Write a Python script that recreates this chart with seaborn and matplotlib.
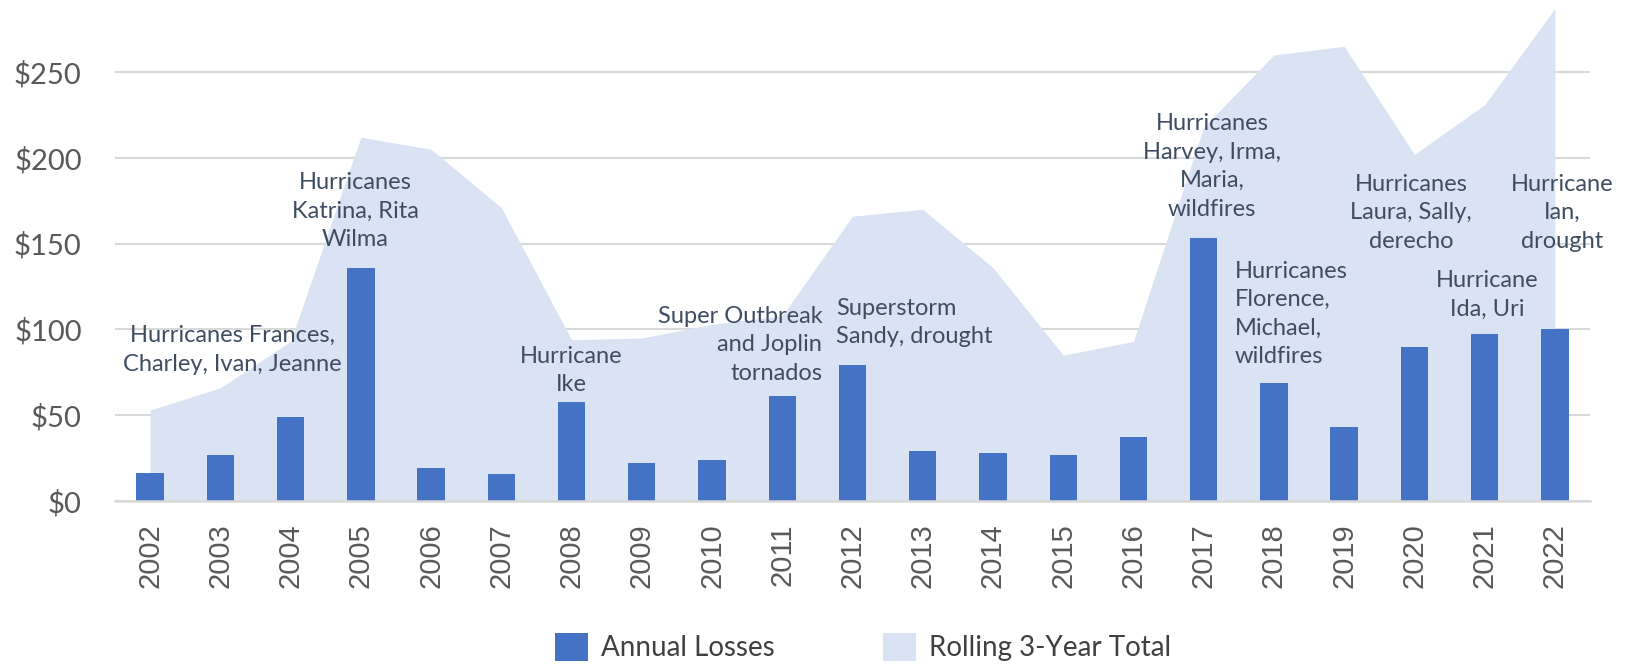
import matplotlib
matplotlib.use("Agg")
import matplotlib.pyplot as plt
from matplotlib.patches import Patch
import numpy as np
import pandas as pd
import seaborn as sns

# Billion-dollar disaster losses, 2002-2022 ($ billions)
years = [str(y) for y in range(2002, 2023)]
annual_losses = [16.5, 27, 49, 136, 19.5, 15.5, 57.5, 22, 24, 61, 79,
                 29, 28, 27, 37.5, 153, 68.5, 43, 89.5, 97.5, 100]
rolling_total = [53, 66, 93, 212, 205, 171, 94, 95, 103, 108, 166,
                 170, 136, 85, 93, 218, 260, 265, 202, 231, 287]
y_ticks = [0, 50, 100, 150, 200, 250]
y_tick_labels = ["$0", "$50", "$100", "$150", "$200", "$250"]

# Event notes: (year, text, horizontal alignment, x offset in bars, y value)
events = [
    ("2004", "Hurricanes Frances,\nCharley, Ivan, Jeanne", "center", -0.83, 88),
    ("2005", "Hurricanes\nKatrina, Rita\nWilma", "center", -0.08, 169),
    ("2008", "Hurricane\nIke", "center", 0.0, 76),
    ("2011", "Super Outbreak\nand Joplin\ntornados", "right", 0.57, 91),
    ("2012", "Superstorm\nSandy, drought", "left", -0.23, 104),
    ("2017", "Hurricanes\nHarvey, Irma,\nMaria,\nwildfires", "center", 0.12, 195),
    ("2018", "Hurricanes\nFlorence,\nMichael,\nwildfires", "left", -0.56, 109),
    ("2020", "Hurricanes\nLaura, Sally,\nderecho", "center", -0.05, 168),
    ("2021", "Hurricane\nIda, Uri", "center", 0.03, 120),
    ("2022", "Hurricane\nIan,\ndrought", "center", 0.11, 168),
]

df = pd.DataFrame({"year": years, "annual": annual_losses, "rolling": rolling_total})

BAR = "#4472C4"
AREA = "#DAE3F3"
GRID = "#D9D9D9"
TICK = "#595959"
NOTE = "#3F4D63"

sns.set_theme(style="white")
plt.rcParams["font.family"] = ["Lato", "DejaVu Sans"]

fig = plt.figure(figsize=(16.25, 6.67), dpi=100)
ax = fig.add_axes([115 / 1625, 166 / 667, 1475 / 1625, 501 / 667])

x = np.arange(len(years))
ax.fill_between(x, 0, df["rolling"], color=AREA, linewidth=0, zorder=2)
sns.barplot(data=df, x="year", y="annual", color=BAR, width=0.39,
            saturation=1, linewidth=0, edgecolor="none", ax=ax, zorder=3)

ax.set_xlim(-0.5, len(years) - 0.5)
ax.set_ylim(0, 292)
ax.set_yticks(y_ticks)
ax.set_yticklabels(y_tick_labels, fontsize=21, color=TICK)
ax.yaxis.grid(True, color=GRID, linewidth=1.5, zorder=1)
ax.set_axisbelow(True)
ax.tick_params(axis="y", length=0, pad=24)
ax.tick_params(axis="x", length=0, pad=16)
for lab in ax.get_xticklabels():
    lab.set_rotation(90)
    lab.set_fontsize(21)
    lab.set_color(TICK)
    lab.set_family(["Liberation Sans", "DejaVu Sans"])
ax.set_xlabel("")
ax.set_ylabel("")
for side in ["top", "right", "left"]:
    ax.spines[side].set_visible(False)
ax.spines["bottom"].set_color(GRID)
ax.spines["bottom"].set_linewidth(1.8)
ax.spines["bottom"].set_zorder(4)

for year, text, ha, dx, yv in events:
    ax.text(years.index(year) + dx, yv, text, ha=ha, va="center",
            fontsize=17, color=NOTE, linespacing=1.45, zorder=5,
            multialignment="center" if ha == "center" else ha)

handles = [Patch(facecolor=BAR, edgecolor="none", label="Annual Losses"),
           Patch(facecolor=AREA, edgecolor="none", label="Rolling 3-Year Total")]
fig.legend(handles=handles, loc="center", bbox_to_anchor=(0.531, 0.03),
           ncol=2, frameon=False, fontsize=20, handlelength=1.2,
           handleheight=1.2, handletextpad=0.45, columnspacing=3.9,
           labelcolor="#404040")

fig.savefig("out.png", dpi=100)
